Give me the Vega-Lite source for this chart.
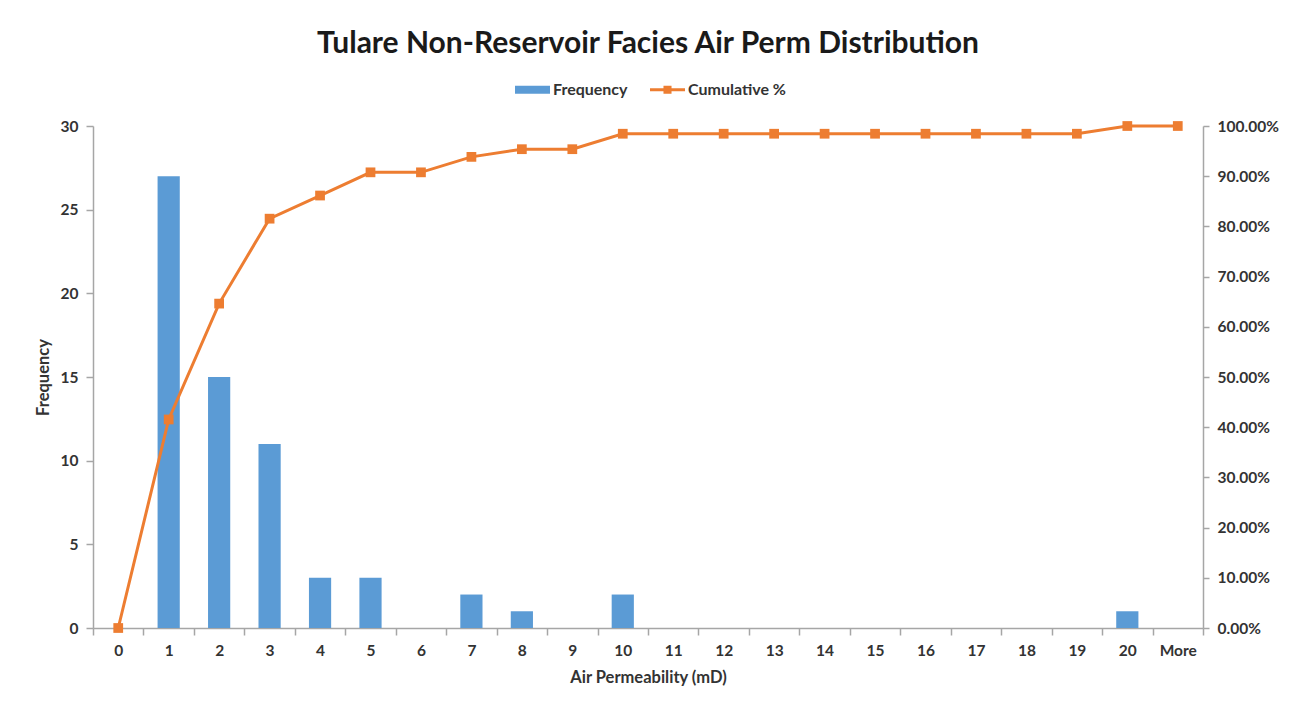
{
  "$schema": "https://vega.github.io/schema/vega-lite/v6.json",
  "width": 1110,
  "height": 502,
  "autosize": {"type": "none"},
  "padding": {"left": 93, "top": 126, "right": 86, "bottom": 84},
  "background": "white",
  "title": {
    "text": "Tulare Non-Reservoir Facies Air Perm Distribution",
    "font": "Lato",
    "fontSize": 30,
    "fontWeight": "bold",
    "color": "#1a1a1a",
    "anchor": "middle",
    "offset": 13
  },
  "data": {
    "values": [
      {"bin": "0", "freq": 0, "cum": 0},
      {"bin": "1", "freq": 27, "cum": 0.4154},
      {"bin": "2", "freq": 15, "cum": 0.6462},
      {"bin": "3", "freq": 11, "cum": 0.8154},
      {"bin": "4", "freq": 3, "cum": 0.8615},
      {"bin": "5", "freq": 3, "cum": 0.9077},
      {"bin": "6", "freq": 0, "cum": 0.9077},
      {"bin": "7", "freq": 2, "cum": 0.9385},
      {"bin": "8", "freq": 1, "cum": 0.9538},
      {"bin": "9", "freq": 0, "cum": 0.9538},
      {"bin": "10", "freq": 2, "cum": 0.9846},
      {"bin": "11", "freq": 0, "cum": 0.9846},
      {"bin": "12", "freq": 0, "cum": 0.9846},
      {"bin": "13", "freq": 0, "cum": 0.9846},
      {"bin": "14", "freq": 0, "cum": 0.9846},
      {"bin": "15", "freq": 0, "cum": 0.9846},
      {"bin": "16", "freq": 0, "cum": 0.9846},
      {"bin": "17", "freq": 0, "cum": 0.9846},
      {"bin": "18", "freq": 0, "cum": 0.9846},
      {"bin": "19", "freq": 0, "cum": 0.9846},
      {"bin": "20", "freq": 1, "cum": 1},
      {"bin": "More", "freq": 0, "cum": 1}
    ]
  },
  "encoding": {
    "x": {
      "field": "bin",
      "type": "ordinal",
      "scale": {
        "domain": ["0","1","2","3","4","5","6","7","8","9","10","11","12","13","14","15","16","17","18","19","20","More"],
        "paddingInner": 0,
        "paddingOuter": 0
      },
      "axis": {
        "title": "Air Permeability (mD)",
        "labelAngle": 0,
        "tickBand": "extent",
        "tickSize": 7,
        "labelPadding": 8,
        "titlePadding": 11,
        "domainColor": "#a6a6a6",
        "domainWidth": 1.5,
        "tickColor": "#a6a6a6",
        "tickWidth": 1.5,
        "labelFont": "Lato",
        "labelFontSize": 15.5,
        "labelFontWeight": "bold",
        "labelColor": "#333333",
        "titleFont": "Lato",
        "titleFontSize": 16.5,
        "titleFontWeight": "bold",
        "titleColor": "#333333"
      }
    }
  },
  "layer": [
    {
      "mark": {"type": "bar", "width": {"band": 0.44}, "color": "#5B9BD5"},
      "encoding": {
        "y": {
          "field": "freq",
          "type": "quantitative",
          "scale": {"domain": [0, 30]},
          "axis": {
            "title": "Frequency",
            "values": [0, 5, 10, 15, 20, 25, 30],
            "grid": false,
            "tickSize": 7,
            "labelPadding": 8,
            "titlePadding": 9,
            "domainColor": "#a6a6a6",
            "domainWidth": 1.5,
            "tickColor": "#a6a6a6",
            "tickWidth": 1.5,
            "labelFont": "Lato",
            "labelFontSize": 15.5,
            "labelFontWeight": "bold",
            "labelColor": "#333333",
            "titleFont": "Lato",
            "titleFontSize": 16.5,
            "titleFontWeight": "bold",
            "titleColor": "#333333"
          }
        },
        "color": {
          "datum": "Frequency",
          "scale": {"domain": ["Frequency", "Cumulative %"], "range": ["#5B9BD5", "#ED7D31"]},
          "legend": {
            "title": null,
            "orient": "none",
            "legendX": 422,
            "legendY": -54,
            "direction": "horizontal",
            "symbolSize": 1225,
            "labelOffset": 3,
            "columnPadding": 22,
            "labelFont": "Lato",
            "labelFontSize": 16,
            "labelFontWeight": "bold",
            "labelColor": "#333333",
            "encode": {
              "symbols": {
                "update": {
                  "shape": {"signal": "datum.value === 'Frequency' ? 'M-1,-0.23L1,-0.23L1,0.23L-1,0.23Z' : 'M-1,-0.086L-0.23,-0.086L-0.23,-0.23L0.23,-0.23L0.23,-0.086L1,-0.086L1,0.086L0.23,0.086L0.23,0.23L-0.23,0.23L-0.23,0.086L-1,0.086Z'"},
                  "fill": {"signal": "datum.value === 'Frequency' ? '#5B9BD5' : '#ED7D31'"},
                  "stroke": {"value": "transparent"},
                  "strokeWidth": {"value": 0},
                  "opacity": {"value": 1},
                  "fillOpacity": {"value": 1}
                }
              }
            }
          }
        }
      }
    },
    {
      "mark": {
        "type": "line",
        "strokeWidth": 3,
        "color": "#ED7D31",
        "point": {"filled": true, "shape": "square", "size": 95, "color": "#ED7D31", "opacity": 1}
      },
      "encoding": {
        "y": {
          "field": "cum",
          "type": "quantitative",
          "scale": {"domain": [0, 1]},
          "axis": {
            "title": null,
            "orient": "right",
            "format": ".2%",
            "values": [0, 0.1, 0.2, 0.3, 0.4, 0.5, 0.6, 0.7, 0.8, 0.9, 1],
            "grid": false,
            "tickSize": 6,
            "labelPadding": 8,
            "domainColor": "#a6a6a6",
            "domainWidth": 1.5,
            "tickColor": "#a6a6a6",
            "tickWidth": 1.5,
            "labelFont": "Lato",
            "labelFontSize": 15.5,
            "labelFontWeight": "bold",
            "labelColor": "#333333"
          }
        },
        "color": {"datum": "Cumulative %"}
      }
    }
  ],
  "resolve": {"scale": {"y": "independent"}},
  "config": {"view": {"stroke": null}}
}
